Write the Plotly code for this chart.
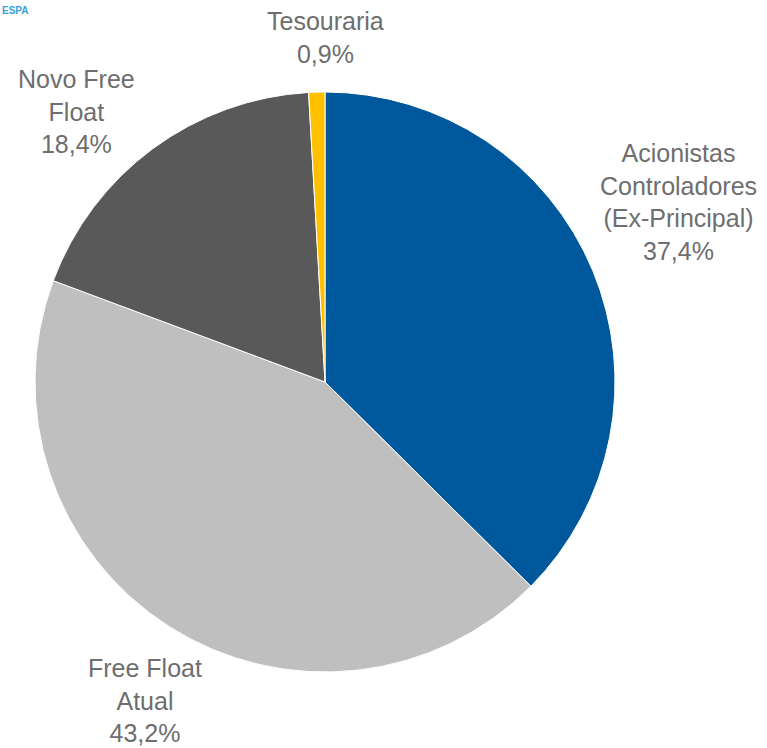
import plotly.graph_objects as go

W, H = 767, 748

# Shareholding structure
labels = ["Acionistas Controladores (Ex-Principal)", "Free Float Atual", "Novo Free Float", "Tesouraria"]
label_lines = [
    ["Acionistas", "Controladores", "(Ex-Principal)"],
    ["Free Float", "Atual"],
    ["Novo Free", "Float"],
    ["Tesouraria"],
]
values = [37.4, 43.2, 18.4, 0.9]
colors = ["#00589C", "#BFBFBF", "#595959", "#FFC000"]

# label centre positions in pixels (x, y from top)
label_pos = [(678, 202), (145, 700), (76, 111), (325, 38)]

# pie geometry in pixels
cx, cy, r = 325, 382, 290

fig = go.Figure(go.Pie(
    labels=labels,
    values=values,
    sort=False,
    direction="clockwise",
    rotation=0,
    marker=dict(colors=colors, line=dict(color="white", width=1)),
    textinfo="none",
    hoverinfo="label+percent",
    showlegend=False,
    domain=dict(x=[(cx - r) / W, (cx + r) / W], y=[1 - (cy + r) / H, 1 - (cy - r) / H]),
))

for lines, v, (px, py) in zip(label_lines, values, label_pos):
    txt = "<br>".join(lines + [f"{v:.1f}".replace(".", ",") + "%"])
    fig.add_annotation(
        x=px / W, y=1 - py / H, xref="paper", yref="paper",
        text=txt, showarrow=False, xanchor="center", yanchor="middle",
        align="center",
        font=dict(family="Liberation Sans, Arial, sans-serif", size=25, color="#6E6E6E"),
    )

# cropped logo text in the corner
fig.add_annotation(
    x=0, y=1 - 10 / H, xref="paper", yref="paper", text="<b>ESPA</b>",
    showarrow=False, xanchor="left", yanchor="middle",
    font=dict(family="Liberation Sans, Arial, sans-serif", size=10, color="#3AA0DA"),
)

fig.update_layout(
    width=W, height=H,
    margin=dict(l=0, r=0, t=0, b=0),
    paper_bgcolor="white",
    plot_bgcolor="white",
)

fig.write_html("out.html")
